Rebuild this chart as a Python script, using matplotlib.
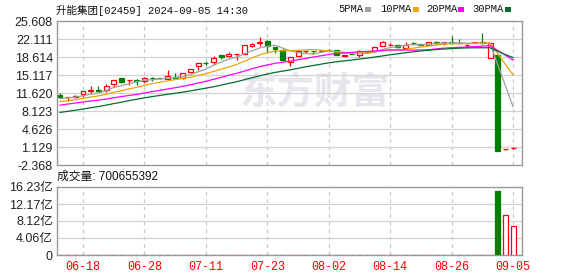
import matplotlib
matplotlib.use("Agg")
import matplotlib.pyplot as plt
from matplotlib.patches import Rectangle
import numpy as np
import pandas as pd

# ---------------- data ----------------
title = "升能集团[02459] 2024-09-05 14:30"
vol_title = "成交量: 700655392"

dates = ["06-13", "06-14", "06-17", "06-18", "06-19", "06-20", "06-21", "06-24",
         "06-25", "06-26", "06-27", "06-28",
         "07-02", "07-03", "07-04", "07-05", "07-08", "07-09", "07-10", "07-11",
         "07-12", "07-15", "07-16", "07-17", "07-18", "07-19", "07-22", "07-23",
         "07-24", "07-25", "07-26", "07-29", "07-30", "07-31",
         "08-01", "08-02", "08-05", "08-06", "08-07", "08-08", "08-09", "08-12",
         "08-13", "08-14", "08-15", "08-16", "08-19", "08-20", "08-21", "08-22",
         "08-23", "08-26", "08-27", "08-28", "08-29", "08-30",
         "09-02", "09-03", "09-04", "09-05"]
tick_dates = ["06-18", "06-28", "07-11", "07-23", "08-02", "08-14", "08-26", "09-05"]

opens = [11.30, 10.85, 10.90, 11.43, 12.10, 12.15, 12.12, 13.36, 14.46, 14.15,
         14.05, 13.90, 14.60, 14.50, 14.35, 14.65, 14.55, 15.70, 16.80, 17.50,
         17.70, 19.00, 18.85, 19.15, 19.25, 20.70, 21.40, 21.65, 20.55, 20.00,
         17.70, 18.90, 19.75, 19.75, 19.70, 20.00, 19.90, 18.85, 19.25, 19.06,
         19.80, 19.70, 20.80, 20.95, 21.00, 20.40, 21.35, 21.05, 21.00, 21.45,
         21.35, 21.50, 21.30, 20.95, 21.30, 21.50, 18.40, 19.06, 0.72, 0.88]
highs = [11.60, 10.90, 11.30, 12.10, 12.90, 12.90, 13.40, 14.20, 14.60, 14.20,
         14.30, 14.80, 14.70, 14.60, 16.00, 15.50, 15.60, 16.25, 17.40, 17.80,
         18.90, 19.00, 19.60, 19.20, 21.00, 21.40, 22.50, 21.90, 20.60, 20.20,
         18.60, 20.00, 19.85, 19.75, 19.90, 20.10, 19.90, 19.05, 19.30, 19.90,
         19.80, 20.55, 21.70, 21.30, 21.00, 21.50, 21.60, 21.10, 21.60, 21.75,
         21.50, 22.75, 22.10, 21.00, 21.60, 23.30, 21.30, 19.06, 0.75, 1.10]
lows = [10.80, 10.10, 10.70, 10.85, 11.70, 12.10, 11.90, 12.70, 13.50, 13.20,
        13.20, 13.50, 13.90, 14.40, 14.30, 14.60, 14.40, 15.60, 16.10, 17.10,
        17.10, 18.20, 18.60, 17.95, 19.20, 20.60, 20.80, 19.40, 19.40, 17.90,
        16.80, 18.90, 19.40, 19.20, 19.50, 19.70, 19.05, 18.85, 19.10, 18.70,
        19.50, 19.70, 20.80, 20.70, 20.30, 20.40, 21.00, 20.90, 21.00, 21.00,
        21.00, 21.20, 21.20, 20.50, 21.30, 21.20, 18.40, 0.35, 0.60, 0.78]
closes = [10.85, 10.90, 10.95, 12.07, 12.15, 12.10, 13.04, 14.20, 13.70, 14.20,
          14.00, 14.50, 14.55, 14.45, 14.95, 14.60, 15.60, 16.25, 17.40, 17.45,
          18.50, 18.60, 19.15, 19.20, 20.90, 21.20, 21.50, 20.70, 20.20, 18.10,
          18.60, 19.70, 19.85, 19.70, 19.80, 19.95, 19.05, 19.05, 19.15, 19.80,
          19.50, 20.50, 21.45, 21.00, 20.55, 21.00, 21.30, 21.00, 21.50, 21.40,
          21.45, 21.40, 21.25, 21.00, 21.50, 21.35, 21.30, 0.42, 0.75, 0.95]
# closes of the 29 sessions before the window (needed for the moving averages)
prior_closes = [4.60, 4.70, 4.80, 4.90, 5.00, 5.05, 5.10, 5.30, 5.40, 5.65,
                6.50, 7.20, 7.80, 8.30, 8.60, 8.90, 9.10, 9.30, 9.60, 10.20,
                9.00, 9.20, 9.40, 9.60, 9.80, 10.00, 10.30, 10.60, 10.75]
# volume in 亿 shares
volumes = [0.05, 0.04, 0.05, 0.06, 0.05, 0.04, 0.06, 0.05, 0.05, 0.04,
           0.04, 0.05, 0.04, 0.03, 0.05, 0.04, 0.05, 0.05, 0.06, 0.04,
           0.05, 0.04, 0.05, 0.04, 0.06, 0.05, 0.05, 0.05, 0.04, 0.06,
           0.05, 0.04, 0.04, 0.03, 0.04, 0.03, 0.04, 0.03, 0.03, 0.04,
           0.03, 0.04, 0.05, 0.03, 0.04, 0.04, 0.03, 0.03, 0.04, 0.03,
           0.03, 0.04, 0.03, 0.03, 0.04, 0.04, 0.06, 15.28, 9.55, 7.00655392]

ma_periods = [5, 10, 20, 30]
ma_labels = ["5PMA", "10PMA", "20PMA", "30PMA"]

price_ticks = [-2.368, 1.129, 4.626, 8.123, 11.620, 15.117, 18.614, 22.111, 25.608]
vol_ticks = [0, 4.06, 8.12, 12.17, 16.23]
vol_tick_labels = ["0", "4.06亿", "8.12亿", "12.17亿", "16.23亿"]

# ---------------- style ----------------
RED = "#ff0000"
GREEN = "#008000"
MA_COLORS = ["#a0a0a0", "#f0a30a", "#ff00ff", "#006e2e"]
GRID = "#d2d2d2"
SPINE = "#999999"
W, H = 578, 276

fig = plt.figure(figsize=(W / 100, H / 100), dpi=100)
fig.patch.set_facecolor("white")

def fx(px):
    return px / W

def fy(py):
    return 1 - py / H

ax = fig.add_axes([fx(57), fy(165), fx(465), 144 / H])
axv = fig.add_axes([fx(57), fy(255), fx(465), 68 / H])

n = len(closes)
x = np.arange(n)
xlim = (-0.39, 60.16)
bw = 0.64

for a in (ax, axv):
    a.set_xlim(*xlim)
    for s in a.spines.values():
        s.set_color(SPINE)
        s.set_linewidth(1.0)
    a.tick_params(length=0, pad=3)
    a.set_xticks([dates.index(d) for d in tick_dates])
    for xi in [dates.index(d) for d in tick_dates]:
        a.axvline(xi, color="#c8c8c8", lw=0.9, ls=(0, (3, 3)), zorder=0)

# ---- watermark ----
ax.text(0.555, 0.5, "东方财富", transform=ax.transAxes, ha="center", va="center",
        fontsize=27, fontweight="bold", color="#e6e6ec",
        family=["Noto Sans CJK SC"], zorder=0)

# ---- price panel ----
ax.set_ylim(price_ticks[0], price_ticks[-1])
ax.set_yticks(price_ticks)
ax.set_yticklabels([f"{v:.3f}" for v in price_ticks])
for v in price_ticks[1:-1]:
    ax.axhline(v, color=GRID, lw=0.9, zorder=0)
ax.set_xticklabels([])

for i in range(n):
    o, h, l, c = opens[i], highs[i], lows[i], closes[i]
    up = c >= o
    col = RED if up else GREEN
    ax.vlines(x[i], l, h, color=col, lw=0.9, zorder=2)
    bot = min(o, c)
    ht = max(abs(c - o), 0.06)
    ax.add_patch(Rectangle((x[i] - bw / 2, bot), bw, ht,
                           facecolor="white" if up else col,
                           edgecolor=col, lw=0.9, zorder=3))

all_close = pd.Series(prior_closes + closes)
for p, colr in zip(ma_periods, MA_COLORS):
    ma = all_close.rolling(p).mean().iloc[len(prior_closes):].to_numpy()
    ax.plot(x, ma, color=colr, lw=0.9, zorder=4)

for lab in ax.get_yticklabels():
    lab.set_family(["Liberation Sans", "Noto Sans CJK SC"])
    lab.set_fontsize(9)
    lab.set_color("#222222")

# ---- volume panel ----
axv.set_ylim(0, 16.23)
axv.set_yticks(vol_ticks)
axv.set_yticklabels(vol_tick_labels)
for v in vol_ticks[1:-1]:
    axv.axhline(v, color=GRID, lw=0.9, zorder=0)
for i in range(n):
    up = closes[i] >= opens[i]
    col = RED if up else GREEN
    axv.add_patch(Rectangle((x[i] - bw / 2, 0), bw, volumes[i],
                            facecolor="white" if up else col,
                            edgecolor=col, lw=0.9, zorder=3))
axv.set_xticklabels(tick_dates)
for lab in axv.get_yticklabels():
    lab.set_family(["Liberation Sans", "Noto Sans CJK SC"])
    lab.set_fontsize(9)
    lab.set_color("#222222")
for lab in axv.get_xticklabels():
    lab.set_family(["Liberation Mono"])
    lab.set_fontsize(8.5)
    lab.set_color(RED)
axv.tick_params(axis="x", pad=4)

# ---- texts ----
fig.text(fx(56), fy(10), title, ha="left", va="center", fontsize=7.6,
         family=["Liberation Mono", "Noto Sans CJK SC"], color="#111111")
fig.text(fx(57), fy(177), vol_title, ha="left", va="center", fontsize=8.5,
         family=["Liberation Sans", "Noto Sans CJK SC"], color="#111111")

leg_x = [338, 380, 426, 472]
box_x = [365, 413, 458, 505]
for lbl, colr, tx, bx in zip(ma_labels, MA_COLORS, leg_x, box_x):
    fig.text(fx(tx), fy(9.5), lbl, ha="left", va="center", fontsize=7.6,
             family=["Liberation Mono"], color="#111111")
    fig.add_artist(Rectangle((fx(bx), fy(11.5)), 5.5 / W, 4.5 / H,
                             transform=fig.transFigure, facecolor=colr,
                             edgecolor="none"))

fig.savefig("out.png", dpi=100)
